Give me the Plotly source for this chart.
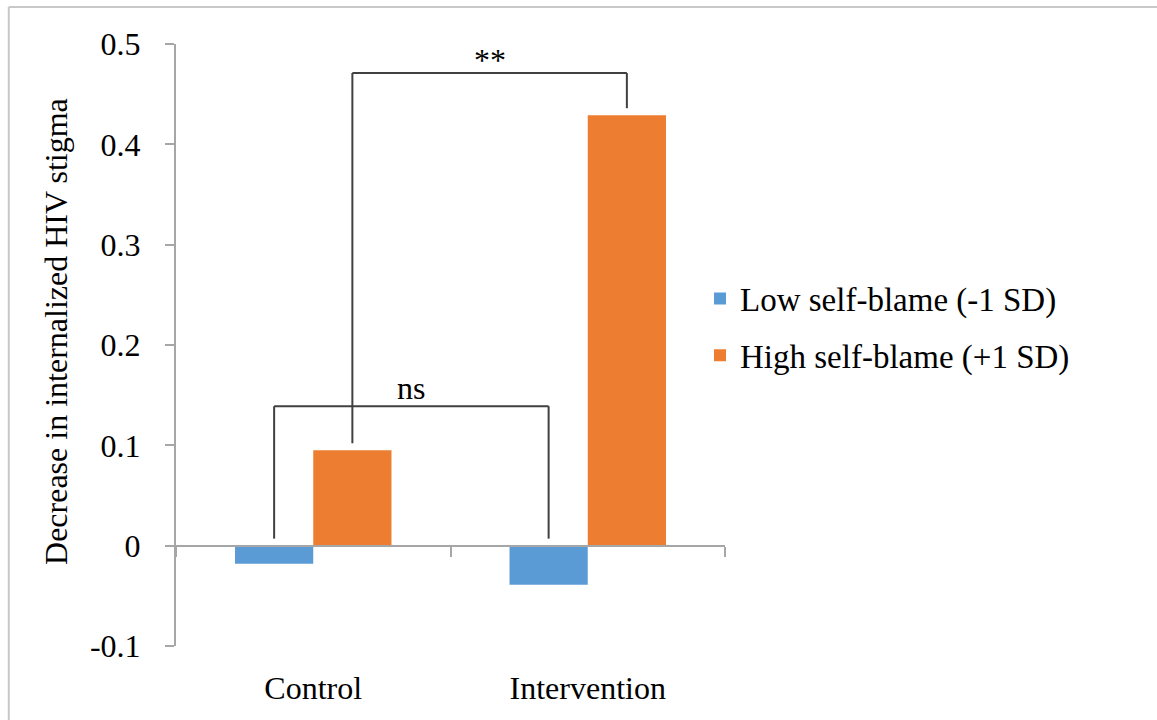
import plotly.graph_objects as go

# Data
groups = ["Control", "Intervention"]
low_self_blame = [-0.018, -0.039]
high_self_blame = [0.095, 0.429]
series_names = ["Low self-blame (-1 SD)", "High self-blame (+1 SD)"]
y_ticks = [-0.1, 0, 0.1, 0.2, 0.3, 0.4, 0.5]
y_tick_labels = ["-0.1", "0", "0.1", "0.2", "0.3", "0.4", "0.5"]
y_title = "Decrease in internalized HIV stigma"

BLUE = "#5B9BD5"
ORANGE = "#ED7D31"
AXIS_GRAY = "#A6A6A6"
BRACKET = "#404040"
FONT = "Liberation Serif"
SERIF = dict(family=FONT, size=32, color="black")

BARGAP = 0.43
bar_w = (1 - BARGAP) / 2  # width of one bar in category units

fig = go.Figure()
fig.add_trace(go.Bar(x=groups, y=low_self_blame, name=series_names[0],
                     marker=dict(color=BLUE, line=dict(width=0)), legendgroup="a"))
fig.add_trace(go.Bar(x=groups, y=high_self_blame, name=series_names[1],
                     marker=dict(color=ORANGE, line=dict(width=0)), legendgroup="b"))
# invisible helper trace so the bottom category labels get their own axis
fig.add_trace(go.Scatter(x=groups, y=[0, 0], xaxis="x2", mode="markers",
                         marker=dict(opacity=0), showlegend=False, hoverinfo="skip"))

# significance brackets, anchored on the bar centres
def centre(i, k):
    return i - bar_w / 2 if k == 0 else i + bar_w / 2

gap = 0.007
def bracket(x0, v0, x1, v1, top, label, shift):
    line = dict(color=BRACKET, width=2)
    fig.add_shape(type="line", x0=x0, x1=x0, y0=max(v0, 0) + gap, y1=top, line=line)
    fig.add_shape(type="line", x0=x1, x1=x1, y0=max(v1, 0) + gap, y1=top, line=line)
    fig.add_shape(type="line", x0=x0, x1=x1, y0=top, y1=top, line=line)
    fig.add_annotation(x=(x0 + x1) / 2, y=top, text=label, showarrow=False,
                       yanchor="bottom", yshift=shift, font=SERIF)

bracket(centre(0, 0), low_self_blame[0], centre(1, 0), low_self_blame[1], 0.139, "ns", -2)
bracket(centre(0, 1), high_self_blame[0], centre(1, 1), high_self_blame[1], 0.471, "**", -7)

# y-axis title
fig.add_annotation(xref="paper", yref="paper", x=-0.2186, y=0.5233, text=y_title,
                   textangle=-90, showarrow=False, xanchor="center", yanchor="middle",
                   font=SERIF)

# outer chart border (top and left edges)
fig.add_shape(type="line", xref="paper", yref="paper", x0=-0.3046, x1=1.8, y0=1.0614, y1=1.0614,
              line=dict(color="#C8C8C8", width=2))
fig.add_shape(type="line", xref="paper", yref="paper", x0=-0.3046, x1=-0.3046, y0=-0.2, y1=1.0614,
              line=dict(color="#C8C8C8", width=2))

fig.update_layout(
    width=1157, height=720,
    margin=dict(l=176, r=432, t=44, b=74),
    paper_bgcolor="white", plot_bgcolor="white",
    barmode="group", bargap=BARGAP, bargroupgap=0,
    font=SERIF,
    showlegend=True,
    legend=dict(x=0.9545, xanchor="left", y=0.53, yanchor="middle",
                font=dict(family=FONT, size=33, color="black"), tracegroupgap=11,
                itemwidth=30, bgcolor="rgba(0,0,0,0)"),
    xaxis=dict(type="category", anchor="free", position=1/6, showline=True,
               linecolor=AXIS_GRAY, linewidth=2, ticks="outside", tickson="boundaries",
               ticklen=10, tickcolor=AXIS_GRAY, tickwidth=2, showticklabels=False,
               showgrid=False, zeroline=False),
    xaxis2=dict(type="category", overlaying="x", matches="x", anchor="y", side="bottom",
                showline=False, ticks="", showgrid=False, zeroline=False,
                tickfont=SERIF, ticklabelstandoff=20),
    yaxis=dict(range=[-0.1, 0.5], tickvals=y_ticks, ticktext=y_tick_labels,
               showline=True, linecolor=AXIS_GRAY, linewidth=2, ticks="outside",
               ticklen=9, tickcolor=AXIS_GRAY, tickwidth=2, showgrid=False,
               zeroline=False, ticklabelstandoff=18, tickfont=SERIF),
)

fig.write_html("out.html")
